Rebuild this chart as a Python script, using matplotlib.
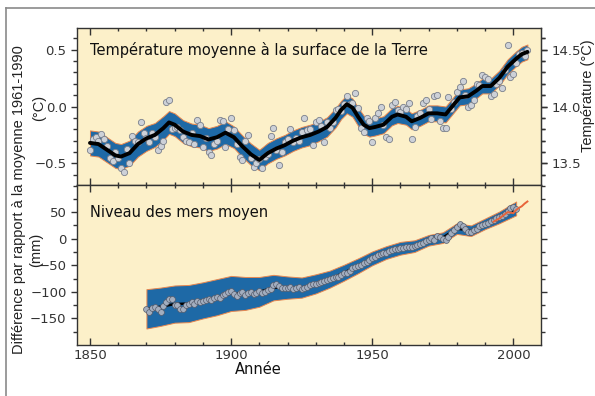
import numpy as np
import matplotlib
matplotlib.use("Agg")
import matplotlib.pyplot as plt
from matplotlib.lines import Line2D

# ---- data ----
temp_years = list(range(1850, 2006))
temp_anom = [
    -0.38, -0.29, -0.27, -0.30, -0.24, -0.29, -0.35, -0.45, -0.48, -0.40,
    -0.45, -0.54, -0.58, -0.37, -0.50, -0.26, -0.30, -0.31, -0.14, -0.23,
    -0.28, -0.31, -0.23, -0.27, -0.38, -0.35, -0.30, 0.04, 0.06, -0.20,
    -0.19, -0.18, -0.21, -0.27, -0.30, -0.31, -0.23, -0.33, -0.12, -0.16,
    -0.36, -0.28, -0.40, -0.43, -0.33, -0.30, -0.12, -0.13, -0.36, -0.20,
    -0.10, -0.21, -0.33, -0.44, -0.47, -0.30, -0.25, -0.45, -0.53, -0.50,
    -0.46, -0.54, -0.44, -0.42, -0.26, -0.19, -0.38, -0.51, -0.40, -0.31,
    -0.29, -0.20, -0.31, -0.28, -0.30, -0.22, -0.10, -0.21, -0.20, -0.34,
    -0.14, -0.12, -0.17, -0.31, -0.14, -0.19, -0.14, -0.03, -0.02, -0.04,
    0.02, 0.09, 0.02, 0.03, 0.12, -0.01, -0.19, -0.22, -0.10, -0.13,
    -0.31, -0.10, -0.06, 0.00, -0.16, -0.27, -0.29, 0.01, 0.04, -0.03,
    -0.05, 0.00, -0.02, 0.03, -0.29, -0.18, -0.08, -0.06, 0.03, 0.06,
    -0.02, -0.11, 0.09, 0.10, -0.13, -0.19, -0.19, 0.08, -0.02, 0.04,
    0.13, 0.17, 0.22, 0.10, 0.00, 0.01, 0.06, 0.20, 0.19, 0.28,
    0.26, 0.24, 0.09, 0.11, 0.20, 0.22, 0.16, 0.32, 0.54, 0.26,
    0.29, 0.38, 0.46, 0.47, 0.44, 0.50,
]

# smoothed decadal curve and its uncertainty half-width
temp_smooth_years = [1850, 1853, 1856, 1859, 1861, 1864, 1867, 1870, 1873, 1876,
                     1878, 1880, 1883, 1886, 1889, 1892, 1895, 1898, 1901, 1904,
                     1907, 1910, 1913, 1916, 1919, 1922, 1925, 1928, 1931, 1934,
                     1937, 1939, 1941, 1943, 1945, 1947, 1949, 1951, 1954, 1957,
                     1959, 1962, 1964, 1967, 1970, 1973, 1976, 1979, 1981, 1984,
                     1987, 1989, 1992, 1995, 1998, 2001, 2003, 2005]
temp_smooth = [-0.32, -0.33, -0.38, -0.43, -0.44, -0.41, -0.33, -0.28, -0.25, -0.19,
               -0.14, -0.16, -0.22, -0.25, -0.26, -0.29, -0.27, -0.23, -0.27, -0.35,
               -0.42, -0.47, -0.41, -0.37, -0.34, -0.30, -0.27, -0.25, -0.22, -0.18,
               -0.10, -0.03, 0.02, -0.01, -0.09, -0.16, -0.19, -0.18, -0.16, -0.09,
               -0.07, -0.09, -0.13, -0.10, -0.06, -0.06, -0.07, 0.02, 0.08, 0.09,
               0.14, 0.18, 0.18, 0.25, 0.35, 0.42, 0.46, 0.48]
temp_err = [0.11, 0.11, 0.11, 0.11, 0.11, 0.11, 0.11, 0.11, 0.105, 0.105,
            0.10, 0.10, 0.10, 0.10, 0.10, 0.10, 0.10, 0.10, 0.095, 0.095,
            0.095, 0.09, 0.09, 0.09, 0.09, 0.09, 0.09, 0.09, 0.085, 0.085,
            0.085, 0.08, 0.08, 0.08, 0.08, 0.08, 0.075, 0.075, 0.075, 0.075,
            0.075, 0.07, 0.07, 0.07, 0.07, 0.07, 0.07, 0.07, 0.07, 0.07,
            0.065, 0.065, 0.065, 0.065, 0.065, 0.065, 0.065, 0.065]

sea_years = list(range(1870, 2002))
sea_level = [
    -133, -137, -131, -129, -133, -137, -126, -119, -113, -114,
    -125, -124, -133, -132, -125, -122, -120, -123, -118, -119,
    -117, -116, -114, -116, -111, -109, -112, -106, -104, -101,
    -99, -104, -108, -102, -100, -106, -103, -100, -104, -102,
    -98, -103, -100, -96, -95, -88, -85, -89, -92, -92,
    -93, -91, -94, -92, -91, -95, -92, -90, -88, -86,
    -85, -83, -81, -80, -78, -76, -74, -73, -72, -68,
    -64, -65, -60, -56, -54, -51, -49, -46, -43, -40,
    -37, -34, -31, -29, -27, -26, -24, -22, -20, -19,
    -18, -17, -16, -15, -16, -14, -12, -10, -8, -5,
    -2, 1, -3, 5, 3, 0, -2, 4, 10, 16,
    22, 28, 24, 18, 13, 12, 16, 19, 23, 26,
    28, 30, 33, 36, 38, 40, 42, 47, 53, 58,
    60, 56,
]

sea_smooth_years = [1870, 1875, 1880, 1885, 1890, 1895, 1900, 1905, 1910, 1915,
                    1920, 1925, 1930, 1935, 1940, 1945, 1950, 1955, 1960, 1965,
                    1970, 1975, 1980, 1985, 1990, 1995, 2001]
sea_smooth = [-132, -128, -123, -122, -116, -110, -103, -103, -100, -92,
              -92, -92, -85, -76, -64, -51, -37, -26, -18, -14,
              -3, 2, 19, 15, 28, 40, 57]
sea_err = [37, 36, 35, 35, 34, 34, 33, 31, 28, 24,
           21, 19, 18, 16, 15, 14, 13, 12, 12, 11,
           10, 10, 10, 10, 10, 11, 13]

# satellite altimetry (red line)
sat_years = [1993, 1994, 1995, 1996, 1997, 1998, 1999, 2000, 2001, 2002, 2003, 2004, 2005]
sat_level = [32, 35, 38, 42, 46, 50, 49, 48, 54, 58, 61, 66, 70]

# ---- style ----
bg = '#fcf0c9'
band_col = '#1e69a6'
band_edge = '#e8874f'
spine_col = '#333333'
lab_font = ['Liberation Sans', 'DejaVu Sans']

fig = plt.figure(figsize=(5.95, 3.96), dpi=100)

ax1 = fig.add_axes([0.1294, 0.5328, 0.7798, 0.3965])
ax2 = fig.add_axes([0.1294, 0.1288, 0.7798, 0.4040])

for ax in (ax1, ax2):
    ax.set_facecolor(bg)
    ax.set_xlim(1845.4, 2009.8)
    for s in ax.spines.values():
        s.set_color(spine_col)
        s.set_linewidth(1.0)
    ax.set_xticks([1850, 1900, 1950, 2000])
    ax.set_xticks(np.arange(1850, 2010, 10), minor=True)
    ax.tick_params(axis='x', which='both', direction='in', top=True, bottom=True,
                   colors=spine_col, labelsize=9.5, pad=3)
    ax.tick_params(axis='x', which='major', length=5, width=1)
    ax.tick_params(axis='x', which='minor', length=2.5, width=1)
    ax.tick_params(axis='y', which='both', direction='out', left=True, right=True,
                   colors=spine_col, labelsize=9.5)
    ax.tick_params(axis='y', which='major', length=4, width=1)
    ax.tick_params(axis='y', which='minor', length=3, width=1)

# top panel: temperature
ax1.set_ylim(-0.69, 0.69)
ax1.set_yticks([-0.5, 0.0, 0.5])
ax1.set_yticks(np.arange(-0.6, 0.65, 0.1), minor=True)
ax1.set_yticklabels(['\u22120.5', '0.0', '0.5'])
ax1.tick_params(axis='x', labelbottom=False)
ax1.tick_params(axis='y', labelright=False)

ty = np.array(temp_smooth)
te = np.array(temp_err)
ax1.fill_between(temp_smooth_years, ty - te, ty + te, facecolor=band_col,
                 edgecolor=band_edge, linewidth=0.7, zorder=2)
ax1.plot(temp_years, temp_anom, 'o', ms=4.5, mfc='#cdd1d8', mec='#7a808c',
         mew=0.6, zorder=3)
ax1.plot(temp_smooth_years, temp_smooth, color='black', lw=2.8, zorder=4,
         solid_capstyle='round', solid_joinstyle='round')
ax1.text(0.028, 0.86, 'Température moyenne à la surface de la Terre',
         transform=ax1.transAxes, fontsize=10.5, va='center', ha='left', color='#111111')

sec = ax1.secondary_yaxis('right', functions=(lambda v: v + 14.0, lambda v: v - 14.0))
sec.set_yticks([13.5, 14.0, 14.5])
sec.set_yticks(np.arange(13.4, 14.65, 0.1), minor=True)
sec.tick_params(which='both', direction='out', colors=spine_col, labelsize=9.5)
sec.tick_params(which='major', length=4, width=1)
sec.tick_params(which='minor', length=3, width=1)
sec.spines['right'].set_color(spine_col)

# bottom panel: sea level
ax2.set_ylim(-200, 101)
ax2.set_yticks([-150, -100, -50, 0, 50])
ax2.set_yticks(np.arange(-175, 101, 25), minor=True)
ax2.set_yticklabels(['\u2212150', '\u2212100', '\u221250', '0', '50'])
ax2.tick_params(axis='y', labelright=False)

sy = np.array(sea_smooth)
se = np.array(sea_err)
ax2.fill_between(sea_smooth_years, sy - se, sy + se, facecolor=band_col,
                 edgecolor=band_edge, linewidth=0.7, zorder=2)
ax2.plot(sea_smooth_years, sea_smooth, color='black', lw=1.8, zorder=3)
ax2.plot(sea_years, sea_level, 'o', ms=4.2, mfc='#a3aebf', mec='#555b6a',
         mew=0.5, zorder=4)
ax2.plot(sat_years, sat_level, color='#e8643a', lw=1.4, zorder=5)
ax2.text(0.028, 0.83, 'Niveau des mers moyen', transform=ax2.transAxes,
         fontsize=10.5, va='center', ha='left', color='#111111')

# axis labels
fig.text(19 / 595, 1 - 200 / 396, 'Différence par rapport à la moyenne 1961-1990',
         rotation=90, ha='center', va='center', fontsize=10.5, family=lab_font,
         color='#222222')
fig.text(39 / 595, 1 - 108 / 396, '(°C)', rotation=90, ha='center', va='center',
         fontsize=10.5, family=lab_font, color='#222222')
fig.text(36 / 595, 1 - 250 / 396, '(mm)', rotation=90, ha='center', va='center',
         fontsize=10.5, family=lab_font, color='#222222')
fig.text(588 / 595, 1 - 96 / 396, 'Température (°C)', rotation=90, ha='center',
         va='center', fontsize=10.5, family=lab_font, color='#222222')
fig.text(258 / 595, 1 - 369 / 396, 'Année', ha='center', va='center',
         fontsize=10.5, color='#111111')

# outer frame lines
fig.add_artist(Line2D([6 / 595, 1.0], [1 - 8 / 396, 1 - 8 / 396],
                      transform=fig.transFigure, color='#8a8a8a', lw=1.2))
fig.add_artist(Line2D([6 / 595, 6 / 595], [0.0, 1 - 8 / 396],
                      transform=fig.transFigure, color='#8a8a8a', lw=1.2))

fig.savefig('out.png', dpi=100)
